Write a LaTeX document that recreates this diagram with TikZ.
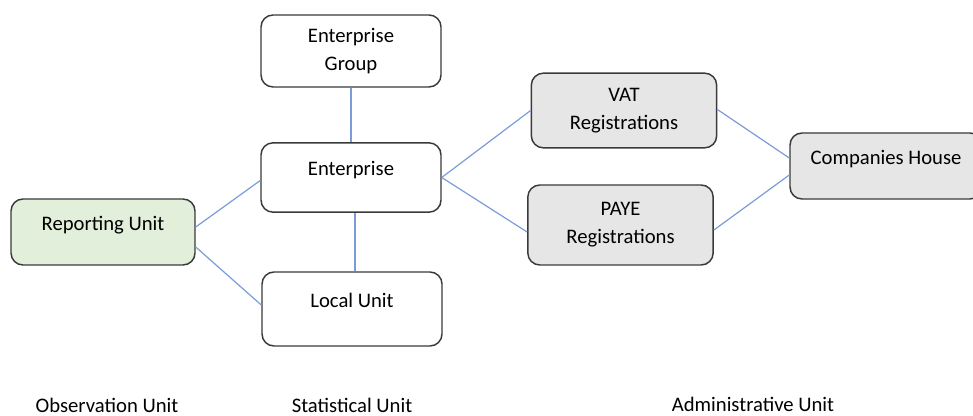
\documentclass[tikz,border=0pt]{standalone}
\usepackage{fontspec}
\setmainfont{Carlito}
\usetikzlibrary{calc}

\definecolor{obsgreen}{HTML}{E2EFDA}
\definecolor{admgrey}{HTML}{E7E6E6}
\definecolor{linkblue}{HTML}{7A9CD9}
\definecolor{edgegrey}{HTML}{3A3A3A}

\begin{document}
\begin{tikzpicture}[x=0.75pt,y=-0.75pt,
    unitbox/.style={draw=edgegrey,line width=1.1pt,rounded corners=9pt,fill=white,
        align=center,font=\fontsize{15.5}{21}\selectfont,inner sep=0pt},
    oneline/.style={text height=11pt,text depth=13.5pt},
    link/.style={linkblue,line width=0.9pt},
    caption/.style={font=\fontsize{15.5}{21}\selectfont,inner sep=0pt,anchor=base}]
    \useasboundingbox (0,0) rectangle (973,416);

    \node[unitbox,minimum width=135pt,minimum height=54pt] (grp) at (351,51) {Enterprise\\Group};
    \node[unitbox,oneline,minimum width=135pt,minimum height=52pt] (ent) at (351,177.5) {Enterprise};
    \node[unitbox,oneline,minimum width=135pt,minimum height=55.5pt] (loc) at (352,309) {Local Unit};
    \node[unitbox,oneline,fill=obsgreen,minimum width=138pt,minimum height=49.5pt] (rep) at (103,232) {Reporting Unit};
    \node[unitbox,fill=admgrey,minimum width=139pt,minimum height=56pt] (vat) at (624,110.5) {VAT\\Registrations};
    \node[unitbox,fill=admgrey,minimum width=139pt,minimum height=60pt] (paye) at (620.5,225) {PAYE\\Registrations};
    \node[unitbox,oneline,fill=admgrey,minimum width=144pt,minimum height=49.5pt] (ch) at (886,166) {Companies House};

    \draw[link] (grp) to (ent);
    \draw[link] ([xshift=3pt]ent.south) to ([xshift=3pt]ent.south |- loc.north);
    \draw[link] ($(rep.east)+(0,-5)$) to ($(ent.west)+(0,3)$);
    \draw[link] ($(rep.east)+(0,15)$) to ($(loc.west)+(0,-4)$);
    \draw[link] (ent.east) to (vat.west);
    \draw[link] (ent.east) to ($(paye.west)+(0,7)$);
    \draw[link] ($(vat.east)+(0,-1)$) to ($(ch.west)+(0,-8)$);
    \draw[link] ($(paye.east)+(0,5)$) to ($(ch.west)+(0,9)$);

    \node[caption] (obs) at (107,412) {Observation Unit};
    \node[caption] (stat) at (352,412) {Statistical Unit};
    \node[caption] (adm) at (753,411.5) {Administrative Unit};
\end{tikzpicture}
\end{document}
